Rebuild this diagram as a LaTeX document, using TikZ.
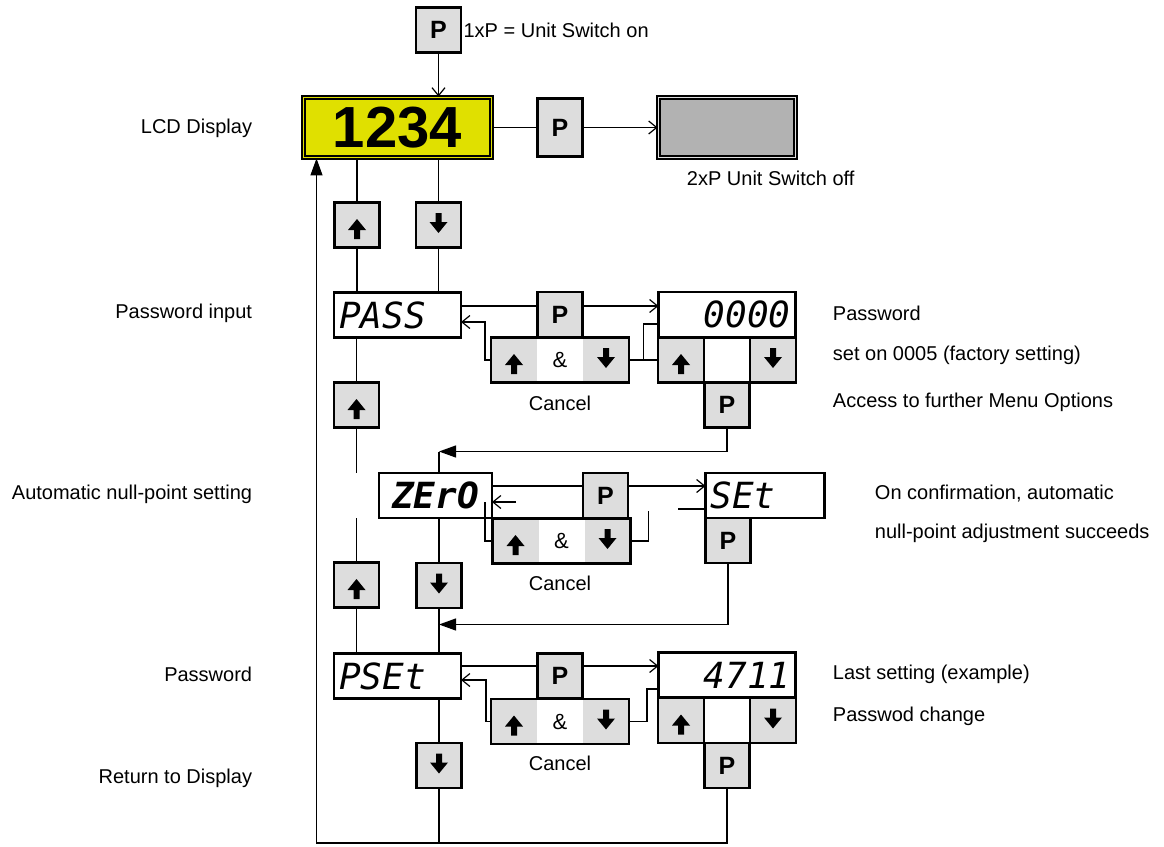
\documentclass[tikz,border=0pt]{standalone}
\usepackage{fontspec}
\setmainfont{Liberation Sans}
\newfontfamily\segfont{DejaVu Sans Mono}
\usetikzlibrary{arrows.meta,positioning,fit,calc}
\definecolor{keygray}{HTML}{DDDDDD}
\definecolor{lcdyellow}{HTML}{E0E000}
\definecolor{lcdgray}{HTML}{B2B2B2}
\newcommand{\segstyle}{\segfont\itshape\fontsize{36}{36}\selectfont}
\newcommand{\upicon}{\fill[black] ([yshift=-4pt]path picture bounding box.center)
  ++(-3pt,-10pt) -- ++(0pt,9pt) -- ++(-6pt,0pt) -- ++(9pt,11pt)
  -- ++(9pt,-11pt) -- ++(-6pt,0pt) -- ++(0pt,-9pt) -- cycle;}
\newcommand{\downicon}{\fill[black] ([yshift=2pt]path picture bounding box.center)
  ++(-3pt,10pt) -- ++(0pt,-9pt) -- ++(-6pt,0pt) -- ++(9pt,-11pt)
  -- ++(9pt,11pt) -- ++(-6pt,0pt) -- ++(0pt,9pt) -- cycle;}

\begin{document}
\begin{tikzpicture}[
  x=1pt, y=-1pt,
  line width=1.2pt,
  font=\fontsize{20}{24}\selectfont,
  key/.style={draw, line width=2.2pt, fill=keygray, minimum width=45pt,
              minimum height=45pt, inner sep=0pt, outer sep=0pt,
              font=\fontsize{25}{25}\selectfont\bfseries},
  upkey/.style={key, path picture={\upicon}},
  downkey/.style={key, path picture={\downicon}},
  cell/.style={fill=keygray, minimum width=46pt, minimum height=45pt,
               inner sep=0pt, outer sep=0pt, font=\fontsize{22}{22}\selectfont},
  upcell/.style={cell, path picture={\upicon}},
  downcell/.style={cell, path picture={\downicon}},
  ampcell/.style={cell, fill=white},
  blank/.style={key, fill=white},
  frame/.style={draw, line width=2.2pt, inner sep=0pt, outer sep=0pt},
  disp/.style={draw, line width=2.2pt, fill=white, inner xsep=5pt, inner ysep=0pt,
               outer sep=0pt, text width=117pt, minimum height=45pt, font=\segstyle},
  lcd/.style={draw, line width=1.8pt, double=lcdyellow, double distance=1.2pt,
              fill=lcdyellow, minimum width=188pt, minimum height=60pt,
              inner sep=0pt, font=\fontsize{58}{58}\selectfont\bfseries},
  lcdoff/.style={lcd, double=gray!25, fill=lcdgray, minimum width=137pt},
  open/.style={-{Straight Barb[length=8pt,width=13pt]}},
  backarrow/.style={-{Triangle[length=17pt,width=12pt]}}
]
\useasboundingbox (0,0) rectangle (1164,846);

% left column texts
\node[anchor=east] (lbllcd) at (256,128) {LCD Display};
\node[anchor=east] (lblpass) at (256,313) {Password input};
\node[anchor=east] (lblzero) at (256,494) {Automatic null-point setting};
\node[anchor=east] (lblpset) at (256,674) {Password};
\node[anchor=east] (lblret) at (256,778) {Return to Display};

% display and switching
\node[key] (pon) at (438.5,30) {P};
\node[anchor=west, inner sep=2pt] (ponlbl) at (pon.east) {1xP = Unit Switch on};
\node[lcd] (lcd) at (397.5,127.5) {1234};
\node[key, minimum height=58pt] (poff) at (560,127.5) {P};
\node[lcdoff] (off) at (727,127.5) {};
\node[anchor=west] (offlbl) at (683,178) {2xP Unit Switch off};

\node[upkey] (up1) at (357,225) {};
\node[downkey] (dn1) at (438.5,225) {};

% password input
\node[disp, align=left] (pass) at (397.5,315) {PASS};
\node[key] (p1) at (560,314.5) {P};
\node[upcell] (u1) at (514,360) {};
\node[ampcell, right=0pt of u1] (a1) {\&};
\node[downcell, right=0pt of a1] (d1) {};
\node[frame, fit=(u1)(d1)] (bar1) {};
\node (cancel1) at (560,403) {Cancel};

\node[disp, text width=127pt, align=right] (pw) at (727,314.5) {0000};
\node[upkey, minimum width=46pt] (pu) at (681,360) {};
\node[blank, minimum width=46pt, right=0pt of pu] (pb) {};
\node[downkey, minimum width=46pt, right=0pt of pb] (pd) {};
\node[key, below=0pt of pb] (pk) {P};
\node[anchor=west] (pwlbl1) at (829,313) {Password};
\node[anchor=west] (pwlbl2) at (829,355) {set on 0005 (factory setting)};
\node[anchor=west] (pwlbl3) at (829,402) {Access to further Menu Options};

\node[upkey] (up2) at (356.5,405) {};

% null-point setting
\node[disp, text width=103pt, align=center, font=\segstyle\bfseries] (zero) at (435.5,495.5) {ZErO};
\node[key] (p2) at (605.5,495.5) {P};
\node[upcell] (u2) at (515.5,541) {};
\node[ampcell, right=0pt of u2] (a2) {\&};
\node[downcell, right=0pt of a2] (d2) {};
\node[frame, fit=(u2)(d2)] (bar2) {};
\node (cancel2) at (560,583) {Cancel};

\node[disp, text width=109pt, align=left] (set) at (765,495.5) {SEt};
\node[key, below=0pt of set.south west, anchor=north west] (ps) {P};
\node[anchor=west] (setlbl1) at (871,494) {On confirmation, automatic};
\node[anchor=west] (setlbl2) at (871,533) {null-point adjustment succeeds};

\node[upkey] (up3) at (356.5,585) {};
\node[downkey] (dn3) at (439,585.5) {};

% password change
\node[disp, align=left] (pset) at (397.5,676) {PSEt};
\node[key] (p3) at (560,676) {P};
\node[upcell] (u3) at (514,721.5) {};
\node[ampcell, right=0pt of u3] (a3) {\&};
\node[downcell, right=0pt of a3] (d3) {};
\node[frame, fit=(u3)(d3)] (bar3) {};
\node (cancel3) at (560,763) {Cancel};

\node[disp, text width=127pt, align=right] (pn) at (727,675) {4711};
\node[upkey, minimum width=46pt] (nu) at (681,720.5) {};
\node[blank, minimum width=46pt, right=0pt of nu] (nb) {};
\node[downkey, minimum width=46pt, right=0pt of nb] (nd) {};
\node[key, below=0pt of nb] (nk) {P};
\node[anchor=west] (pnlbl1) at (829,674) {Last setting (example)};
\node[anchor=west] (pnlbl2) at (829,716) {Passwod change};

\node[downkey] (dn4) at (439,765.5) {};

% line levels
\coordinate (r1) at (0,306);
\coordinate (r1b) at (0,322);
\coordinate (r1c) at (0,324);
\coordinate (r2) at (0,451.5);
\coordinate (r3) at (0,486);
\coordinate (r3b) at (0,502);
\coordinate (r3c) at (0,509);
\coordinate (r4) at (0,624.5);
\coordinate (r5) at (0,666);
\coordinate (r5b) at (0,680);
\coordinate (r5c) at (0,689);
\coordinate (loop) at (316.5,843);

% connectors
\draw[open] (pon) -- (pon |- lcd.north);
\draw (lcd) -- (poff);
\draw[open] (poff) -- (off);
\draw (up1 |- lcd.south) -- (up1);
\draw (dn1 |- lcd.south) -- (dn1);
\draw (up1) -- (up1 |- pass.north);
\draw (dn1) -- (dn1 |- pass.north);

\draw (pass.east |- r1) -- (p1.west |- r1);
\draw[open] (p1.east |- r1) -- (pw.west |- r1);
\draw[open] (bar1.west) -- ++(-6,0) |- (pass.east |- r1b);
\draw (bar1.east) -- (pu.west);
\draw ($(bar1.east)!0.5!(pu.west)$) |- (pw.west |- r1c);

\draw (up2 |- pass.south) -- (up2);
\draw (up2) -- (up2 |- zero.north);
\draw[backarrow] (pk) |- (dn3 |- r2);
\draw (dn3 |- r2) -- (dn3 |- zero.north);

\draw (zero.east |- r3) -- (p2.west |- r3);
\draw[open] (p2.east |- r3) -- (set.west |- r3);
\draw[open] ($(zero.east |- r3b)+(24,0)$) -- (zero.east |- r3b);
\draw (bar2.west) -| ($(zero.east |- r3b)+(-7,0)$);
\draw (bar2.east) -- ++(18,0) -- ++(0,-30);
\draw (set.west |- r3c) -- ++(-28,0);

\draw (up3 |- zero.south) -- (up3);
\draw (up3) -- (up3 |- pset.north);
\draw (dn3 |- zero.south) -- (dn3);
\draw (dn3) -- (dn3 |- pset.north);
\draw[backarrow] (ps) |- (dn3 |- r4);

\draw (pset.east |- r5) -- (p3.west |- r5);
\draw[open] (p3.east |- r5) -- (pn.west |- r5);
\draw[open] (bar3.west) -- ++(-5,0) |- (pset.east |- r5b);
\draw (bar3.east) -- ++(18,0) |- (pn.west |- r5c);

\draw (dn4 |- pset.south) -- (dn4);
\draw (dn4) -- (dn4 |- loop);
\draw[backarrow] (nk) |- (loop) -- (loop |- lcd.south);
\end{tikzpicture}
\end{document}
